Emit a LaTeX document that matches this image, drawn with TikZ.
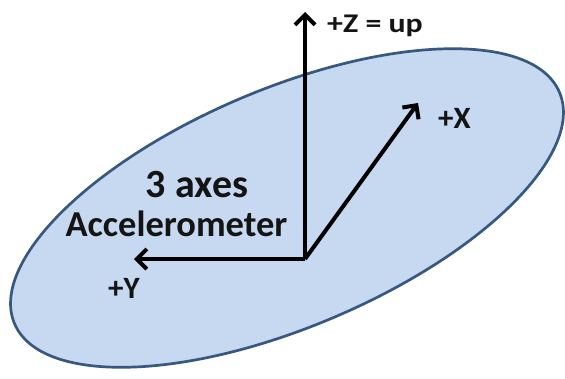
\documentclass[tikz,border=0pt]{standalone}
\usepackage{fontspec}
\setmainfont{Carlito}
\usetikzlibrary{arrows.meta}
\definecolor{plate}{RGB}{198,217,240}
\definecolor{rim}{RGB}{56,88,128}
\definecolor{ink}{RGB}{20,20,20}
\tikzset{
  axis/.style={line width=4pt, draw=black, -{Straight Barb[length=10pt,width=20pt,line width=4pt]}},
  lbl/.style={inner sep=0pt, anchor=base, text=ink, font=\bfseries}
}
\begin{document}
\begin{tikzpicture}[x=1pt,y=-1pt]
\useasboundingbox (0,0) rectangle (565,378);
\fill[white] (0,0) rectangle (565,378);
\draw[fill=plate, draw=rim, line width=2.7pt, rotate around={23:(287,208)}] (287,208) ellipse [x radius=296, y radius=119];
\coordinate (o) at (305,259);
\coordinate (z) at (305,12);
\coordinate (x) at (418,103);
\coordinate (y) at (134,259);
\draw[axis] (o) -- (z);
\draw[axis] (o) -- (x);
\draw[axis] (o) -- (y);
\node[lbl, anchor=base west, xscale=1.18, font=\bfseries\fontsize{27}{32}\selectfont] (zl) at (327,32) {+Z = up};
\node[lbl, anchor=base west, font=\bfseries\fontsize{31}{36}\selectfont] (xl) at (438,128) {+X};
\node[lbl, anchor=base west, font=\bfseries\fontsize{31}{36}\selectfont] (yl) at (108,298) {+Y};
\node[lbl, font=\bfseries\fontsize{40}{46}\selectfont] (t1) at (197,197) {3 axes};
\node[lbl, font=\bfseries\fontsize{36.5}{42}\selectfont] (t2) at (176.5,236) {Accelerometer};
\end{tikzpicture}
\end{document}
